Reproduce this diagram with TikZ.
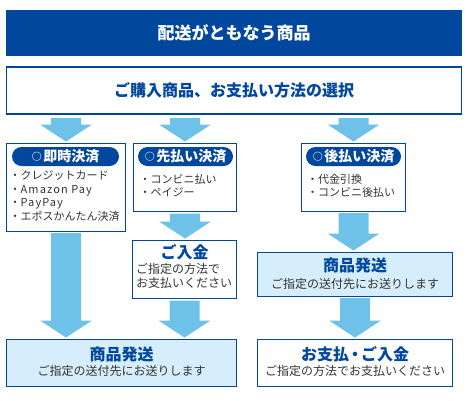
\documentclass[tikz,border=0pt]{standalone}
\usepackage{fontspec}
\setmainfont{Noto Sans CJK JP}
\usetikzlibrary{calc}
\definecolor{dblue}{RGB}{0,71,157}
\definecolor{arrowc}{RGB}{110,193,232}
\definecolor{lfill}{RGB}{214,238,251}
\definecolor{itemc}{RGB}{51,51,51}
\newcommand\blockarrow[4]{% x-node, source, target, top gap
  \fill[arrowc] let \p1=(#1.center), \p2=(#2.south), \p3=(#3.north) in
  (\x1-15pt,\y2-#4) -- (\x1+15pt,\y2-#4) -- (\x1+15pt,\y3+19pt) -- (\x1+26pt,\y3+19pt)
  -- (\x1,\y3+2pt) -- (\x1-26pt,\y3+19pt) -- (\x1-15pt,\y3+19pt) -- cycle;}
\newcommand\pillcircle{\raisebox{1.1pt}{\fontsize{10}{10}\selectfont ○}\hspace{1.5pt}}
\newcommand\latin[1]{{\addfontfeatures{LetterSpace=10}#1}}
\tikzset{
  box/.style={draw=dblue, line width=1.2pt, fill=white, inner sep=0pt, outer sep=0pt},
  pill/.style={fill=dblue, rounded corners=9.5pt, minimum height=19pt, inner sep=0pt,
    text=white, font=\bfseries\fontsize{14}{14}\selectfont},
  items/.style={anchor=west, align=left, inner sep=0pt, text=itemc},
  btitle/.style={inner sep=0pt, text=dblue, font=\bfseries\fontsize{16}{16}\selectfont},
  bsub/.style={inner sep=0pt, text=itemc, font=\fontsize{12}{14}\selectfont},
}
\begin{document}
\begin{tikzpicture}[x=1pt,y=-1pt]
\useasboundingbox (0,0) rectangle (470,400);
% header
\node[fill=dblue, minimum width=456pt, minimum height=46pt, inner sep=0pt, text=white,
  font=\bfseries\fontsize{17}{17}\selectfont] (title) at (234,33) {配送がともなう商品};
\node[box, minimum width=455pt, minimum height=47pt, text=dblue,
  font=\bfseries\fontsize{16}{16}\selectfont] (sel) at (234,90.5) {ご購入商品、お支払い方法の選択};
% payment boxes
\node[box, minimum width=119pt, minimum height=88pt] (box1) at (66,187.5) {};
\node[pill, minimum width=107pt] (pill1) at (65.5,156.5) {\pillcircle 即時決済};
\node[items, font=\fontsize{11}{13.4}\selectfont] (items1) at (9.5,196)
  {・クレジットカード\\・\latin{Amazon Pay}\\・\latin{PayPay}\\・エポスかんたん決済};
\node[box, minimum width=103pt, minimum height=68pt] (box2) at (185,177.5) {};
\node[pill, minimum width=95pt] (pill2) at (185.5,156.5) {\pillcircle 先払い決済};
\node[items, font=\fontsize{11}{13}\selectfont] (items2) at (139.5,186)
  {・コンビニ払い\\・ペイジー};
\node[box, minimum width=104pt, minimum height=68pt] (box3) at (353.5,177.5) {};
\node[pill, minimum width=95pt] (pill3) at (353.5,156.5) {\pillcircle 後払い決済};
\node[items, font=\fontsize{11}{13}\selectfont] (items3) at (307,185.5)
  {・代金引換\\・コンビニ後払い};
% middle boxes
\node[box, minimum width=104pt, minimum height=58pt] (pay1) at (184.5,269.5) {};
\node[btitle] (pay1t) at (184.5,252) {ご入金};
\node[bsub, anchor=west, align=left] (pay1s) at (136,276) {ご指定の方法で\\お支払いください};
\node[box, fill=lfill, minimum width=195pt, minimum height=44pt] (ship2) at (355,274.5) {};
\node[btitle] (ship2t) at (355,265) {商品発送};
\node[bsub] (ship2s) at (355,284) {ご指定の送付先にお送りします};
% bottom boxes
\node[box, fill=lfill, minimum width=230pt, minimum height=47pt] (ship1) at (121.5,363) {};
\node[btitle] (ship1t) at (121.5,354) {商品発送};
\node[bsub] (ship1s) at (121.5,371) {ご指定の送付先にお送りします};
\node[box, minimum width=195pt, minimum height=47pt] (pay2) at (355,363) {};
\node[btitle] (pay2t) at (355,354) {お支払\kern-2pt・\kern-2ptご入金};
\node[bsub] (pay2s) at (355,371) {ご指定の方法でお支払いください};
% arrows
\blockarrow{box1}{sel}{box1}{4pt}
\blockarrow{box2}{sel}{box2}{4pt}
\blockarrow{box3}{sel}{box3}{4pt}
\blockarrow{box1}{box1}{ship1}{1.5pt}
\blockarrow{box2}{box2}{pay1}{2pt}
\blockarrow{pay1}{pay1}{ship1}{2pt}
\blockarrow{box3}{box3}{ship2}{1.5pt}
\blockarrow{ship2}{ship2}{pay2}{1.5pt}
\end{tikzpicture}
\end{document}
